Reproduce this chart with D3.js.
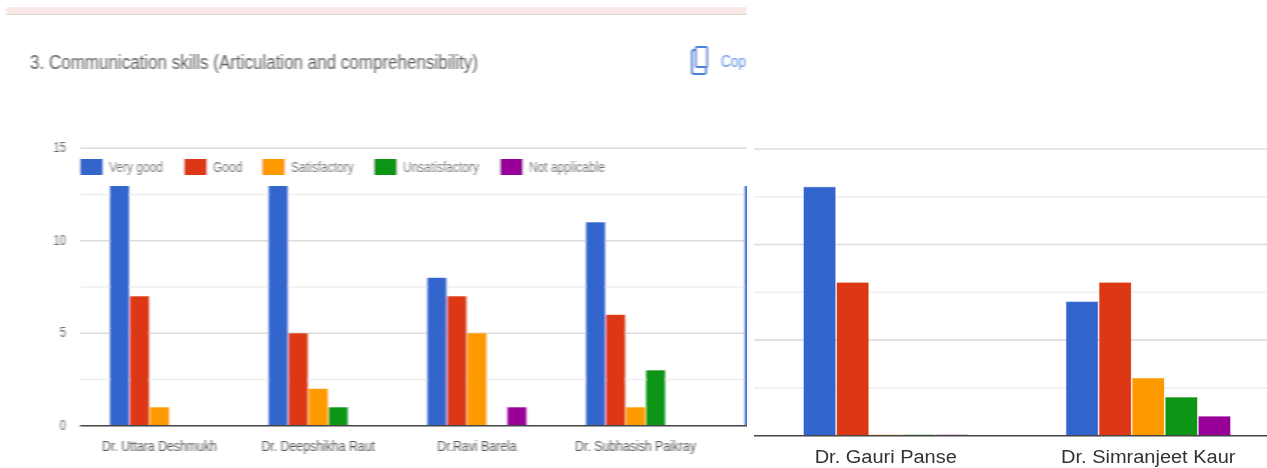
<!DOCTYPE html>
<html><head><meta charset="utf-8">
<script src="https://cdnjs.cloudflare.com/ajax/libs/d3/7.8.5/d3.min.js"></script>
<style>html,body{margin:0;padding:0;background:#fff}svg{display:block}text{font-family:"Liberation Sans",Arial,sans-serif}</style>
</head><body><svg id="c" width="1267" height="468"></svg>
<script>
const categories = ["Dr. Uttara Deshmukh","Dr. Deepshikha Raut","Dr.Ravi Barela","Dr. Subhasish Paikray","Dr. Gauri Panse","Dr. Simranjeet Kaur"];
const seriesNames = ["Very good","Good","Satisfactory","Unsatisfactory","Not applicable"];
const veryGood = [13,13,8,11,13,7];
const good = [7,5,7,6,8,8];
const satisfactory = [1,2,5,1,0,3];
const unsatisfactory = [0,1,0,3,0,2];
const notApplicable = [0,0,1,0,0,1];
const yTicks = [0,2.5,5,7.5,10,12.5,15];
const yLabels = [0,5,10,15];
const colors = ["#3366cc","#dc3912","#ff9900","#109618","#990099"];
const seriesValues = [veryGood,good,satisfactory,unsatisfactory,notApplicable];

const svg = d3.select("#c");
const defs = svg.append("defs");
const soft = defs.append("filter").attr("id","soft").attr("x","-5%").attr("y","-5%").attr("width","110%").attr("height","110%");
soft.append("feGaussianBlur").attr("stdDeviation","0.8 0.55");
const softR = defs.append("filter").attr("id","softR").attr("x","-5%").attr("y","-5%").attr("width","110%").attr("height","110%");
softR.append("feGaussianBlur").attr("stdDeviation","0.35");
defs.append("clipPath").attr("id","clipL").append("rect").attr("x",0).attr("y",0).attr("width",747).attr("height",468);
defs.append("clipPath").attr("id","clipR").append("rect").attr("x",754).attr("y",0).attr("width",513).attr("height",468);

function squeeze(sel,k){ sel.each(function(){ const w=this.getComputedTextLength(); d3.select(this).attr("textLength",w*k).attr("lengthAdjust","spacingAndGlyphs"); }); }

function panel(g,o){
  const x = d3.scaleBand().domain(categories).range(o.xRange).paddingInner(0.376).paddingOuter(0.188);
  const x1 = d3.scaleBand().domain(seriesNames).range([0,x.bandwidth()]).paddingInner(0.05);
  const y = d3.scaleLinear().domain([0,15]).range([o.y0,o.y15]);
  g.selectAll("line.grid").data(yTicks.filter(t=>t>0)).join("line").attr("class","grid")
    .attr("x1",o.left).attr("x2",o.right).attr("y1",d=>y(d)).attr("y2",d=>y(d))
    .attr("stroke",d=>d%5===0?"#dcdcdc":"#efefef").attr("stroke-width",1.6);
  seriesNames.forEach((s,i)=>{
    const cells = categories.map((c,j)=>({c,v:seriesValues[i][j]}));
    const sg = g.append("g");
    sg.selectAll("rect").data(cells.filter(d=>d.v>0)).join("rect")
      .attr("x",d=>x(d.c)+x1(s)).attr("width",x1.bandwidth())
      .attr("y",d=>y(d.v)).attr("height",d=>y(0)-y(d.v))
      .attr("fill",colors[i]).attr("stroke",colors[i]).attr("stroke-opacity",o.edge).attr("stroke-width",1);
    sg.selectAll("line").data(cells.filter(d=>d.v===0)).join("line")
      .attr("x1",d=>x(d.c)+x1(s)).attr("x2",d=>x(d.c)+x1(s)+x1.bandwidth())
      .attr("y1",y(0)-1).attr("y2",y(0)-1)
      .attr("stroke",colors[i]).attr("stroke-opacity",o.edge).attr("stroke-width",1);
  });
  g.append("line").attr("x1",o.left).attr("x2",o.right).attr("y1",y(0)).attr("y2",y(0)).attr("stroke","#444").attr("stroke-width",1.6);
  const lab = g.selectAll("text.cat").data(categories.filter(o.showLabel)).join("text").attr("class","cat")
    .attr("x",d=>x(d)+x.bandwidth()/2).attr("y",o.labelY).attr("text-anchor","middle")
    .attr("font-size",o.labelSize).attr("fill",o.labelColor).text(d=>d);
  squeeze(lab,o.labelK);
  return y;
}

// left screenshot
const L = svg.append("g").attr("clip-path","url(#clipL)").append("g").attr("filter","url(#soft)");
L.append("rect").attr("x",6).attr("y",7).attr("width",741).attr("height",7).attr("fill","#fbe9e7");
L.append("line").attr("x1",6).attr("x2",747).attr("y1",14.5).attr("y2",14.5).attr("stroke","#d8d4d4");
const titleT = L.append("text").attr("x",30).attr("y",69).attr("font-size",20).attr("fill","#5f5f5f")
  .text("3. Communication skills (Articulation and comprehensibility)");
squeeze(titleT,0.85);
L.append("rect").attr("x",692).attr("y",50).attr("width",14).attr("height",24).attr("rx",2).attr("fill","none").attr("stroke","#4a80d8").attr("stroke-width",2);
L.append("rect").attr("x",696).attr("y",47).attr("width",11).attr("height",20).attr("rx",1).attr("fill","#fff").attr("stroke","#4a80d8").attr("stroke-width",2);
const copyT = L.append("text").attr("x",721).attr("y",67).attr("font-size",17).attr("fill","#5b8de0").text("Cop");
squeeze(copyT,0.8);
const yL = panel(L,{xRange:[80.15,1032.35],y0:425.8,y15:148.3,left:80,right:760,edge:0,labelY:451,labelSize:15,labelColor:"#555",labelK:0.82,showLabel:(d,i)=>i<4});
L.selectAll("text.ax").data(yLabels).join("text").attr("class","ax")
  .attr("x",66).attr("y",d=>yL(d)+4).attr("text-anchor","end").attr("font-size",14).attr("fill","#666").text(d=>d)
  .call(squeeze,0.8);
// legend sits on a white box that hides the gridlines behind it
const legendX = [80,184,262,374,500];
const legendTextK = 0.8;
L.append("rect").attr("x",76).attr("y",151).attr("width",680).attr("height",35).attr("fill","#fff");
seriesNames.forEach((s,i)=>{
  L.append("rect").attr("x",legendX[i]).attr("y",159).attr("width",23).attr("height",16).attr("fill",colors[i]);
  const t=L.append("text").attr("x",legendX[i]+29).attr("y",172).attr("font-size",15).attr("fill","#666").text(s);
  squeeze(t,legendTextK);
});

// right screenshot
const R = svg.append("g").attr("clip-path","url(#clipR)").append("g").attr("filter","url(#softR)");
panel(R,{xRange:[-295.5,1279.5],y0:435.7,y15:149,left:754,right:1280,edge:0.3,labelY:463,labelSize:18,labelColor:"#333",labelK:1.11,showLabel:(d,i)=>i>=4});
</script></body></html>
